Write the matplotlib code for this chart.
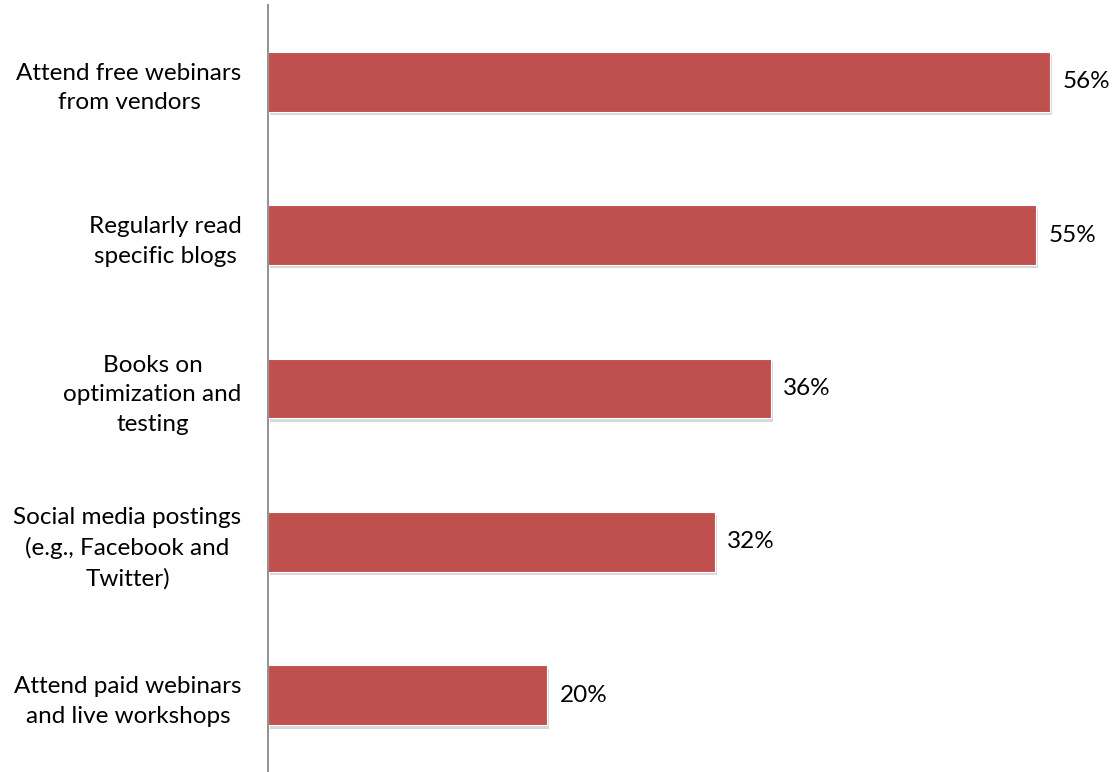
import matplotlib
matplotlib.use('Agg')
import matplotlib.pyplot as plt
import matplotlib.patheffects as pe

# data (top to bottom)
categories = [
    'Attend free webinars\nfrom vendors',
    'Regularly read\nspecific blogs',
    'Books on\noptimization and\ntesting',
    'Social media postings\n(e.g., Facebook and\nTwitter)',
    'Attend paid webinars\nand live workshops',
]
values = [56, 55, 36, 32, 20]

plt.rcParams['font.family'] = ['Lato', 'DejaVu Sans']

fig = plt.figure(figsize=(11.17, 7.72), dpi=100)
ax = fig.add_axes([0.2399, 0.0, 0.75, 0.9935])

pos = list(range(len(categories)))
bars = ax.barh(pos, values, height=0.39, color='#C0504D',
               edgecolor='white', linewidth=0.8)
for b in bars:
    b.set_path_effects([pe.SimplePatchShadow(offset=(1.5, -2.5), shadow_rgbFace='#aaaaaa', alpha=0.45),
                        pe.Normal()])

for p, v in zip(pos, values):
    ax.annotate(f'{v}%', xy=(v, p), xytext=(9, 0), textcoords='offset points',
                va='center', ha='left', fontsize=17.5, color='black')

ax.set_xlim(0, 60)
ax.set_ylim(len(categories) - 0.5, -0.5)
ax.set_yticks(pos)
ax.set_yticklabels(categories, fontsize=17.5, ha='right', multialignment='center',
                   linespacing=1.5)
ax.tick_params(axis='y', length=0, pad=19)
ax.set_xticks([])

for s in ['top', 'right', 'bottom']:
    ax.spines[s].set_visible(False)
ax.spines['left'].set_color('#888888')
ax.spines['left'].set_linewidth(1.3)

fig.savefig('out.png', dpi=100)
